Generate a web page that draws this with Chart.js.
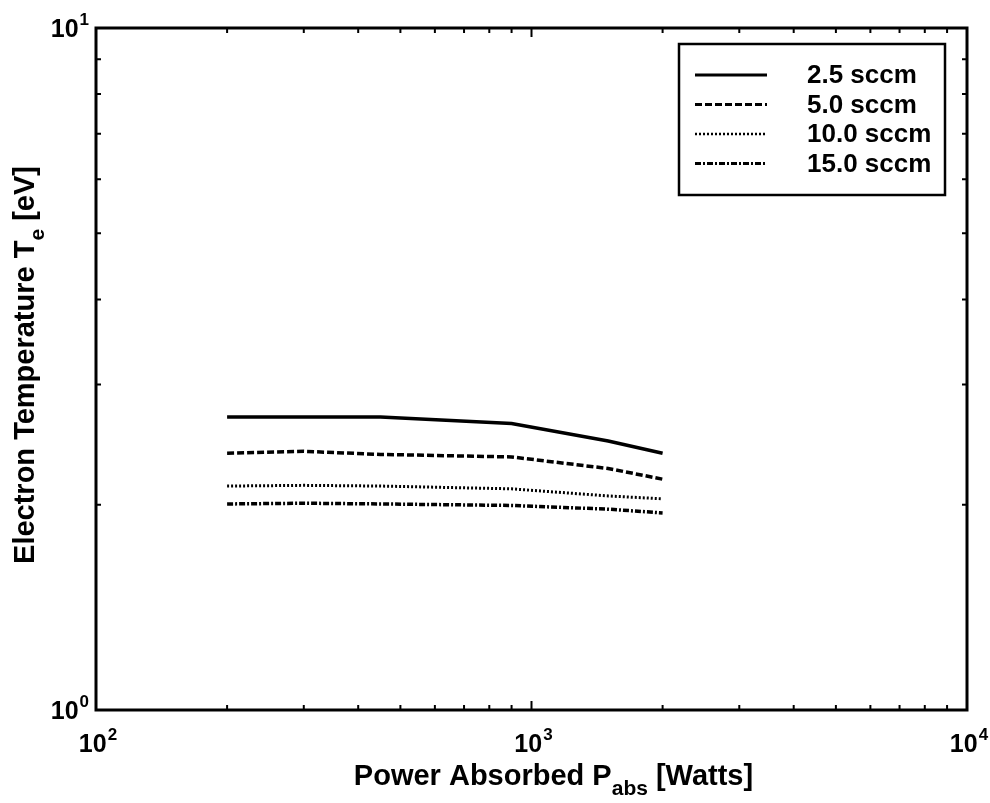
<!DOCTYPE html>
<html>
<head>
<meta charset="utf-8">
<script src="https://cdn.jsdelivr.net/npm/chart.js"></script>
<title>Electron temperature vs absorbed power</title>
<style>
  html, body { margin: 0; padding: 0; background: #fff; }
  #wrap { width: 990px; height: 803px; }
</style>
</head>
<body>
<div id="wrap"><canvas id="chart-1" width="990" height="803"></canvas></div>

<script>
  // absorbed power [W]
  const power = [200, 300, 450, 900, 1500, 2000];

  // electron temperature [eV], one list per flow rate
  const te25 = [2.69, 2.69, 2.69, 2.63, 2.48, 2.38];
  const te50 = [2.38, 2.395, 2.37, 2.35, 2.26, 2.18];
  const te100 = [2.13, 2.135, 2.13, 2.11, 2.06, 2.04];
  const te150 = [2.005, 2.01, 2.005, 1.995, 1.97, 1.945];

  const seriesLabels = ['2.5 sccm', '5.0 sccm', '10.0 sccm', '15.0 sccm'];

  // decade exponents labelled on each axis
  const xExponents = [2, 3, 4];
  const yExponents = [0, 1];

  const FONT = '"Liberation Sans", Arial, sans-serif';

  function toPoints(ys) {
    return power.map((p, i) => ({ x: p, y: ys[i] }));
  }

  function line(label, ys, dash, width) {
    return {
      label: label,
      data: toPoints(ys),
      borderColor: '#000',
      borderWidth: width,
      borderDash: dash,
      pointRadius: 0,
      fill: false,
      tension: 0
    };
  }

  // draws "10" with a raised exponent; align is 'center' or 'right'
  function drawPow(ctx, exp, x, y, align) {
    ctx.font = 'bold 25px ' + FONT;
    const wBase = ctx.measureText('10').width;
    ctx.font = 'bold 17px ' + FONT;
    const wExp = ctx.measureText(String(exp)).width;
    const total = wBase + wExp + 1;
    let left = align === 'center' ? x - total / 2 : x - total;
    ctx.textAlign = 'left';
    ctx.textBaseline = 'alphabetic';
    ctx.font = 'bold 25px ' + FONT;
    ctx.fillText('10', left, y);
    ctx.font = 'bold 17px ' + FONT;
    ctx.fillText(String(exp), left + wBase + 1, y - 12);
  }

  // text with a lowered subscript part: [before, sub, after]
  function drawSubText(ctx, parts, cx, y) {
    const big = 'bold 29px ' + FONT, small = 'bold 21px ' + FONT;
    ctx.font = big;
    const w1 = ctx.measureText(parts[0]).width;
    const w3 = ctx.measureText(parts[2]).width;
    ctx.font = small;
    const w2 = ctx.measureText(parts[1]).width;
    let left = cx - (w1 + w2 + w3) / 2;
    ctx.textAlign = 'left';
    ctx.textBaseline = 'alphabetic';
    ctx.font = big;
    ctx.fillText(parts[0], left, y);
    ctx.font = small;
    ctx.fillText(parts[1], left + w1, y + 10);
    ctx.font = big;
    ctx.fillText(parts[2], left + w1 + w2, y);
  }

  const boxedAxes = {
    id: 'boxedAxes',
    afterDraw(chart) {
      const { ctx, chartArea: a, scales: { x, y } } = chart;
      ctx.save();
      ctx.fillStyle = '#000';
      ctx.strokeStyle = '#000';

      // inward ticks on all four sides
      ctx.lineWidth = 2;
      ctx.setLineDash([]);
      ctx.beginPath();
      for (let e = xExponents[0]; e < xExponents[xExponents.length - 1]; e++) {
        for (let k = 1; k <= 9; k++) {
          const v = k * Math.pow(10, e);
          if (v <= x.min || v >= x.max) continue;
          const px = x.getPixelForValue(v);
          const len = k === 1 ? 9 : 5;
          ctx.moveTo(px, a.bottom); ctx.lineTo(px, a.bottom - len);
          ctx.moveTo(px, a.top); ctx.lineTo(px, a.top + len);
        }
      }
      for (let e = yExponents[0]; e < yExponents[yExponents.length - 1]; e++) {
        for (let k = 1; k <= 9; k++) {
          const v = k * Math.pow(10, e);
          if (v <= y.min || v >= y.max) continue;
          const py = y.getPixelForValue(v);
          const len = k === 1 ? 9 : 5;
          ctx.moveTo(a.left, py); ctx.lineTo(a.left + len, py);
          ctx.moveTo(a.right, py); ctx.lineTo(a.right - len, py);
        }
      }
      ctx.stroke();

      // frame
      ctx.lineWidth = 3;
      ctx.strokeRect(a.left, a.top, a.right - a.left, a.bottom - a.top);

      // tick labels
      xExponents.forEach(e => {
        drawPow(ctx, e, x.getPixelForValue(Math.pow(10, e)) + 2, a.bottom + 42, 'center');
      });
      yExponents.forEach(e => {
        drawPow(ctx, e, a.left - 7, y.getPixelForValue(Math.pow(10, e)) + 9, 'right');
      });

      // axis titles
      drawSubText(ctx, ['Power Absorbed P', 'abs', ' [Watts]'], (a.left + a.right) / 2 + 22, a.bottom + 75);
      ctx.save();
      ctx.translate(34, (a.top + a.bottom) / 2 - 4);
      ctx.rotate(-Math.PI / 2);
      drawSubText(ctx, ['Electron Temperature T', 'e', ' [eV]'], 0, 0);
      ctx.restore();

      // legend box in the upper right corner
      const lx = 679, ly = 44, lw = 266, lh = 151;
      ctx.fillStyle = '#fff';
      ctx.fillRect(lx, ly, lw, lh);
      ctx.lineWidth = 2.5;
      ctx.strokeRect(lx, ly, lw, lh);
      ctx.fillStyle = '#000';
      ctx.font = 'bold 26px ' + FONT;
      ctx.textAlign = 'left';
      ctx.textBaseline = 'middle';
      chart.data.datasets.forEach((ds, i) => {
        const ry = ly + 31 + i * 29.5;
        ctx.lineWidth = ds.borderWidth - 0.5;
        ctx.setLineDash(ds.borderDash);
        ctx.beginPath();
        ctx.moveTo(lx + 16, ry);
        ctx.lineTo(lx + 88, ry);
        ctx.stroke();
        ctx.setLineDash([]);
        ctx.fillText(ds.label, lx + 128, ry + 1);
      });
      ctx.restore();
    }
  };

  const config = {
    type: 'line',
    data: {
      datasets: [
        line(seriesLabels[0], te25, [], 3.5),
        line(seriesLabels[1], te50, [7, 3], 3.5),
        line(seriesLabels[2], te100, [2, 2], 3),
        line(seriesLabels[3], te150, [6, 2, 2, 2], 3.5)
      ]
    },
    options: {
      responsive: false,
      animation: false,
      devicePixelRatio: 1,
      layout: {
        padding: { left: 96, right: 23, top: 28, bottom: 93 }
      },
      scales: {
        x: { type: 'logarithmic', min: 100, max: 10000, display: false },
        y: { type: 'logarithmic', min: 1, max: 10, display: false }
      },
      plugins: {
        legend: { display: false },
        tooltip: { enabled: false }
      }
    },
    plugins: [boxedAxes]
  };

  const chart = new Chart(document.getElementById('chart-1'), config);
</script>
</body>
</html>
